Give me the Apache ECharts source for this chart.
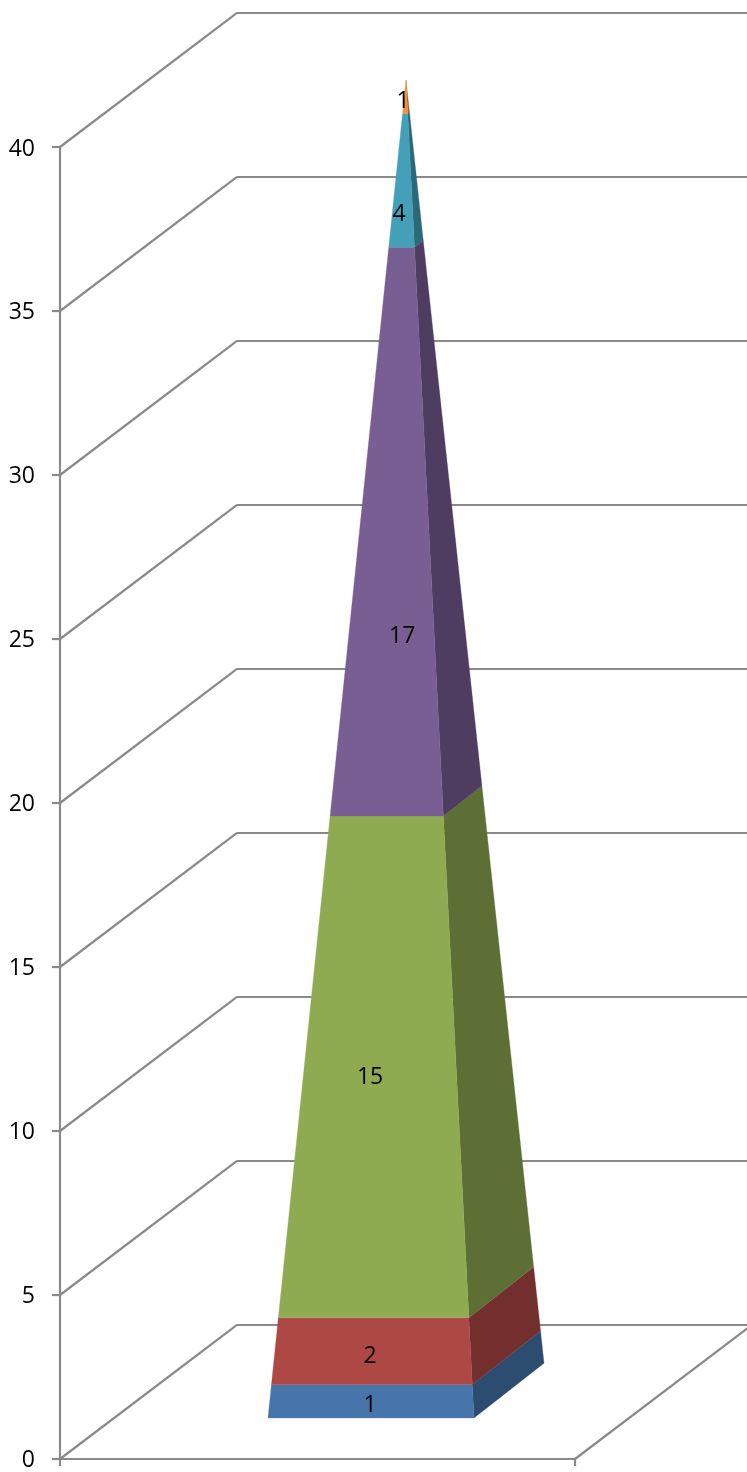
<!DOCTYPE html>
<html><head><meta charset="utf-8">
<style>html,body{margin:0;padding:0;background:#fff}#c{width:747px;height:1472px}</style>
<script src="https://cdn.jsdelivr.net/npm/echarts@6/dist/echarts.min.js"></script>
</head><body><div id="c"></div>
<script>
var segmentNames = ['Series1','Series2','Series3','Series4','Series5','Series6'];
var segmentValues = [1, 2, 15, 17, 4, 1];
var axisTicks = [0, 5, 10, 15, 20, 25, 30, 35, 40];
var frontColors = ['#4774AB','#AD4845','#8FAB52','#785E93','#44A0B9','#F09243'];
var sideColors = ['#2C4C70','#722F2D','#5D6F35','#4E3D60','#2B6979','#9E5F2C'];
var labelAnchorX = [0.37, 0.37, 0.37, 0.486, 0.475, 0.489];
var labelAnchorY = [0.39, 1.85, 10.17, 23.37, 35.97, 39.37];

var MAXV = 40, FONT = '"Open Sans"', GRID = '#8A8A8A', LW = 2.2;
var WALL_DX = 0.3437, WALL_DY = 4.09, TICK_DX = 0.0155;
var APEX = 0.5, LEFT = 0, FRONT_R = 0.7464, BACK_R = 1, DEPTH_V = 1.64;

var cum = 0;
var segments = segmentValues.map(function (v, i) { var r = [cum, cum + v, i]; cum += v; return r; });

function hideAxis(extra){ return Object.assign({show:false, type:'value', splitLine:{show:false}}, extra); }

var option = {
  backgroundColor:'#fff', animation:false,
  grid:[
    {left:60, top:147, width:515, height:1312},
    {left:237, top:13, width:510, height:1312},
    {left:268, top:80, width:276, height:1338},
    {left:60, top:149, width:515, height:1312}
  ],
  xAxis:[
    {gridIndex:0, type:'value', min:0, max:1, interval:1,
     axisLine:{show:true, lineStyle:{color:GRID, width:LW}},
     axisTick:{show:true, length:7, lineStyle:{color:GRID, width:LW}},
     axisLabel:{show:false}, splitLine:{show:false}},
    hideAxis({gridIndex:1, min:0, max:1}),
    hideAxis({gridIndex:2, min:0, max:1}),
    hideAxis({gridIndex:3, min:0, max:1})
  ],
  yAxis:[
    {gridIndex:0, type:'value', min:0, max:MAXV, interval:5,
     axisLine:{show:true, lineStyle:{color:GRID, width:LW}},
     axisTick:{show:false},
     axisLabel:{show:false}, splitLine:{show:false}},
    {gridIndex:1, type:'value', min:0, max:MAXV, interval:5,
     axisLine:{show:false}, axisTick:{show:false}, axisLabel:{show:false},
     splitLine:{show:true, lineStyle:{color:GRID, width:LW}}},
    hideAxis({gridIndex:2, min:0, max:MAXV}),
    {gridIndex:3, type:'value', min:0, max:MAXV, interval:5,
     axisLine:{show:false}, axisTick:{show:false}, splitLine:{show:false},
     axisLabel:{fontFamily:FONT, fontSize:23, color:'#000', margin:25}}
  ],
  series:[
    {type:'custom', xAxisIndex:0, yAxisIndex:0, z:1, silent:true,
     data: axisTicks.map(function(t){return [t];}),
     renderItem:function(p, api){
       var t = api.value(0);
       var a = api.coord([0,t]), b = api.coord([WALL_DX, t + WALL_DY]), k = api.coord([-TICK_DX, t]);
       var kids = [
         {type:'line', shape:{x1:a[0],y1:a[1],x2:b[0],y2:b[1]},
          style:{stroke:GRID, lineWidth:LW, fill:null}},
         {type:'line', shape:{x1:k[0],y1:k[1],x2:a[0],y2:a[1]},
          style:{stroke:GRID, lineWidth:LW, fill:null}}
       ];
       if (t === 0) {
         var c = api.coord([1,0]), d = api.coord([1+WALL_DX, WALL_DY]);
         kids.push({type:'line', shape:{x1:c[0],y1:c[1],x2:d[0],y2:d[1]},
                    style:{stroke:GRID, lineWidth:LW, fill:null}});
       }
       return {type:'group', children:kids};
     }},
    {type:'custom', xAxisIndex:2, yAxisIndex:2, z:5, silent:true,
     data: segments,
     renderItem:function(p, api){
       var v0 = api.value(0), v1 = api.value(1), i = api.value(2);
       function t(v){ return 1 - v/MAXV; }
       function at(c, v){ return APEX + (c - APEX)*t(v); }
       function fl(v){ return api.coord([at(LEFT,v), v]); }
       function fr(v){ return api.coord([at(FRONT_R,v), v]); }
       function br(v){ return api.coord([at(BACK_R,v), v + DEPTH_V*t(v)]); }
       var pos = api.coord([labelAnchorX[i], labelAnchorY[i]]);
       return {type:'group', children:[
         {type:'polygon', shape:{points:[fr(v0),br(v0),br(v1),fr(v1)]}, style:{fill:sideColors[i], stroke:sideColors[i], lineWidth:0.3}},
         {type:'polygon', shape:{points:[fl(v0),fr(v0),fr(v1),fl(v1)]}, style:{fill:frontColors[i], stroke:frontColors[i], lineWidth:0.3}},
         {type:'text', z2:10, style:{x:pos[0], y:pos[1], text:String(v1-v0), fill:'#000',
            font:'23px '+FONT, textAlign:'center', textVerticalAlign:'middle'}}
       ]};
     }}
  ]
};
echarts.init(document.getElementById('c')).setOption(option);
</script></body></html>
